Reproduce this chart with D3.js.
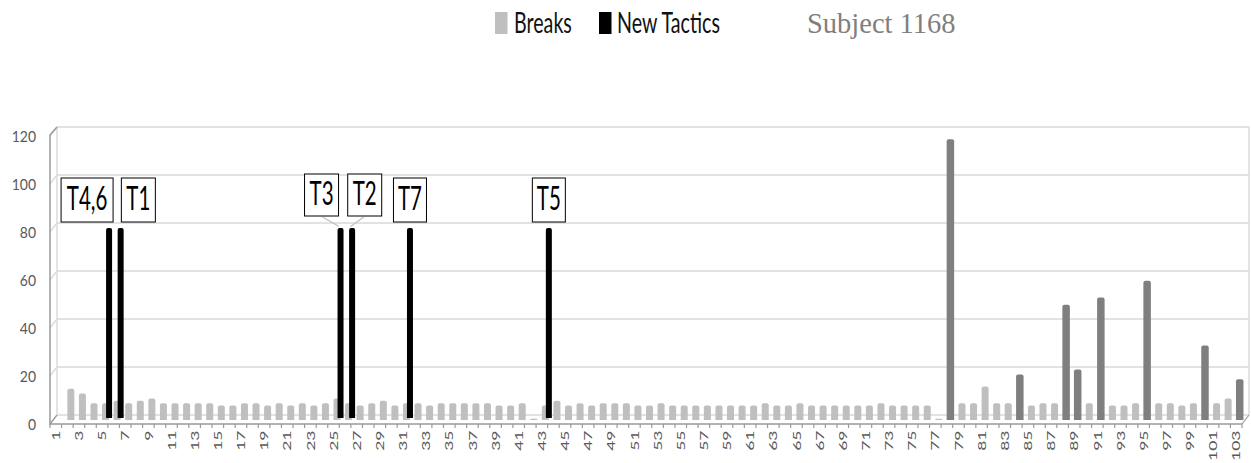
<!DOCTYPE html>
<html>
<head>
<meta charset="utf-8">
<script src="https://cdn.jsdelivr.net/npm/d3@7/dist/d3.min.js"></script>
<style>
  html, body { margin: 0; padding: 0; background: #fff; }
  svg { display: block; }
</style>
</head>
<body>
<svg id="chart" width="1251" height="463"></svg>
<script>
// ---------------- DATA ----------------
const categories = d3.range(1, 104).map(String);
const breaks = [
  0, 13, 11, 7, 7, 8, 7, 8, 9, 7,
  7, 7, 7, 7, 6, 6, 7, 7, 6, 7,
  6, 7, 6, 7, 9, 7, 6, 7, 8, 6,
  7, 7, 6, 7, 7, 7, 7, 7, 6, 6,
  7, 0.5, 6, 8, 6, 7, 6, 7, 7, 7,
  6, 6, 7, 6, 6, 6, 6, 6, 6, 6,
  6, 7, 6, 6, 7, 6, 6, 6, 6, 6,
  6, 7, 6, 6, 6, 6, 0.5, 117, 7, 7,
  14, 7, 7, 19, 6, 7, 7, 48, 21, 7,
  51, 6, 6, 7, 58, 7, 7, 6, 7, 31,
  7, 9, 17
];
const longBreakCategories = ["78", "84", "88", "89", "91", "95", "100", "103"];
const tacticCategories = ["5", "6", "25", "26", "31", "43"];
const tacticValues = [80, 80, 80, 80, 80, 80];
const tacticLabels = ["T4,6", "T1", "T3", "T2", "T7", "T5"];
const yTicks = [0, 20, 40, 60, 80, 100, 120];
const xTickLabels = categories.filter((c, i) => i % 2 === 0);
const seriesNames = ["Breaks", "New Tactics"];
const subjectText = "Subject 1168";

// ---------------- LAYOUT ----------------
const svg = d3.select("#chart");
const FONT = "Lato, 'Liberation Sans', sans-serif";
const colLight = "#bfbfbf", colDark = "#7f7f7f", colBlack = "#000000";
const gridCol = "#d9d9d9", axisCol = "#9a9a9a";

const x = d3.scaleBand().domain(categories).range([50, 1242]).padding(0);
const y = d3.scaleLinear().domain([0, 120]).range([420, 132]);
const bw = x.bandwidth();
const back = { dx: 3.5, dy: -5 }, front = { dx: -3.5, dy: 4 };
const midX = c => x(c) + bw / 2 + 3.5;

const xL = x.range()[0], xR = x.range()[1];
const g = svg.append("g");

yTicks.forEach(v => {
  const yb = y(v) + back.dy, yf = y(v) + front.dy;
  g.append("line").attr("x1", xL + 7).attr("x2", xR + 7).attr("y1", yb).attr("y2", yb)
    .attr("stroke", gridCol).attr("stroke-width", 1.6);
  g.append("line").attr("x1", xL).attr("x2", xL + 7).attr("y1", yf).attr("y2", yb)
    .attr("stroke", v === 0 ? axisCol : gridCol).attr("stroke-width", 1.3);
});
g.append("line").attr("x1", xL + 7).attr("x2", xL + 7).attr("y1", y(120) + back.dy).attr("y2", y(0) + back.dy)
  .attr("stroke", gridCol).attr("stroke-width", 1.4);
g.append("line").attr("x1", xR + 7).attr("x2", xR + 7).attr("y1", y(120) + back.dy).attr("y2", y(0) + back.dy)
  .attr("stroke", gridCol).attr("stroke-width", 1.4);
g.append("line").attr("x1", xR).attr("x2", xR + 7).attr("y1", y(0) + front.dy).attr("y2", y(0) + back.dy)
  .attr("stroke", axisCol).attr("stroke-width", 1.2);

function barPath(cx, w, yTop, yBot) {
  const r = Math.min(2, (yBot - yTop) / 2, w / 2);
  const x0 = cx - w / 2, x1 = cx + w / 2;
  return `M${x0},${yBot}L${x0},${yTop + r}Q${x0},${yTop} ${x0 + r},${yTop}` +
         `L${x1 - r},${yTop}Q${x1},${yTop} ${x1},${yTop + r}L${x1},${yBot}Z`;
}

const breakData = categories.map((c, i) => ({ c, v: breaks[i], dark: longBreakCategories.includes(c) }));
g.append("g").selectAll("path").data(breakData.filter(d => d.v > 0)).join("path")
  .attr("d", d => barPath(midX(d.c), d.dark ? 7.5 : 7, y(d.v), y(0)))
  .attr("fill", d => d.dark ? colDark : colLight);

g.append("path")
  .attr("d", `M${xL + 7},${y(120) + back.dy}L${xL},${y(120) + front.dy - 1}L${xL},${y(0) + front.dy}L${xR},${y(0) + front.dy}`)
  .attr("fill", "none").attr("stroke", axisCol).attr("stroke-width", 1.5);
g.append("g").selectAll("line").data(categories.concat(["_end"])).join("line")
  .attr("x1", (c, i) => xL + i * bw).attr("x2", (c, i) => xL + i * bw)
  .attr("y1", y(0) + front.dy).attr("y2", y(0) + front.dy + 4)
  .attr("stroke", axisCol).attr("stroke-width", 1.2);

const tactData = tacticCategories.map((c, i) => ({ c, v: tacticValues[i], label: tacticLabels[i] }));
g.append("g").selectAll("path").data(tactData).join("path")
  .attr("d", d => barPath(midX(d.c) + 3.5, 6, y(d.v), y(0) - 2))
  .attr("fill", colBlack);

g.append("g").selectAll("g").data(yTicks).join("g")
  .attr("transform", v => `translate(36,${y(v) + front.dy + 5.5}) scale(0.9,1)`)
  .append("text").attr("text-anchor", "end")
  .attr("font-family", FONT).attr("font-size", 15.5).attr("fill", "#595959")
  .text(v => v);

g.append("g").selectAll("g").data(xTickLabels).join("g")
  .attr("transform", c => `translate(${x(c) + bw / 2},${y(0) + front.dy + 6.5}) rotate(-90) scale(1,0.68)`)
  .append("text").attr("text-anchor", "end").attr("dy", "0.35em")
  .attr("font-family", FONT).attr("font-size", 17.5).attr("fill", "#595959")
  .text(c => c);

const labelLayout = {
  "T4,6": { dx: -22, w: 52, h: 44, gap: 6 },
  "T1":   { dx: 17.7, w: 34, h: 44, gap: 6 },
  "T3":   { dx: -19, w: 34, h: 42, gap: 12, leader: true },
  "T2":   { dx: 12.6, w: 34, h: 42, gap: 12, leader: true },
  "T7":   { dx: 0, w: 33, h: 44, gap: 6 },
  "T5":   { dx: 0, w: 33, h: 44, gap: 6 }
};
tactData.forEach(d => {
  const L = labelLayout[d.label];
  const bx = midX(d.c) + 3.5;
  const cx = bx + L.dx;
  const bottom = y(d.v) - L.gap;
  const top = bottom - L.h;
  if (L.leader) {
    const sx = L.dx < 0 ? cx + 1 : cx - 1;
    g.append("line").attr("x1", sx).attr("y1", bottom + 1).attr("x2", bx - 1.5).attr("y2", y(d.v) - 1.5)
      .attr("stroke", "#bfbfbf").attr("stroke-width", 1.2);
  }
  g.append("rect").attr("x", cx - L.w / 2).attr("y", top).attr("width", L.w).attr("height", L.h)
    .attr("fill", "#fff").attr("stroke", "#000").attr("stroke-width", 1);
  g.append("g").attr("transform", `translate(${cx},${top + L.h / 2 + 10}) scale(0.64,1)`)
    .append("text").attr("text-anchor", "middle")
    .attr("font-family", FONT).attr("font-size", 32).attr("fill", "#000")
    .text(d.label);
});

const legend = svg.append("g");
const legendItems = [
  { name: seriesNames[0], color: colLight, x: 495, tx: 514 },
  { name: seriesNames[1], color: colBlack, x: 599, tx: 617 }
];
legendItems.forEach(it => {
  legend.append("rect").attr("x", it.x).attr("y", 12).attr("width", 12.5).attr("height", 22).attr("fill", it.color);
  legend.append("g").attr("transform", `translate(${it.tx},33) scale(0.69,1)`)
    .append("text").attr("font-family", FONT).attr("font-size", 28.5).attr("fill", "#111")
    .text(it.name);
});
svg.append("text").attr("x", 807).attr("y", 33)
  .attr("font-family", "'Liberation Serif', 'Times New Roman', serif").attr("font-size", 28.5)
  .attr("fill", "#7f7f7f").text(subjectText);
</script>
</body>
</html>
